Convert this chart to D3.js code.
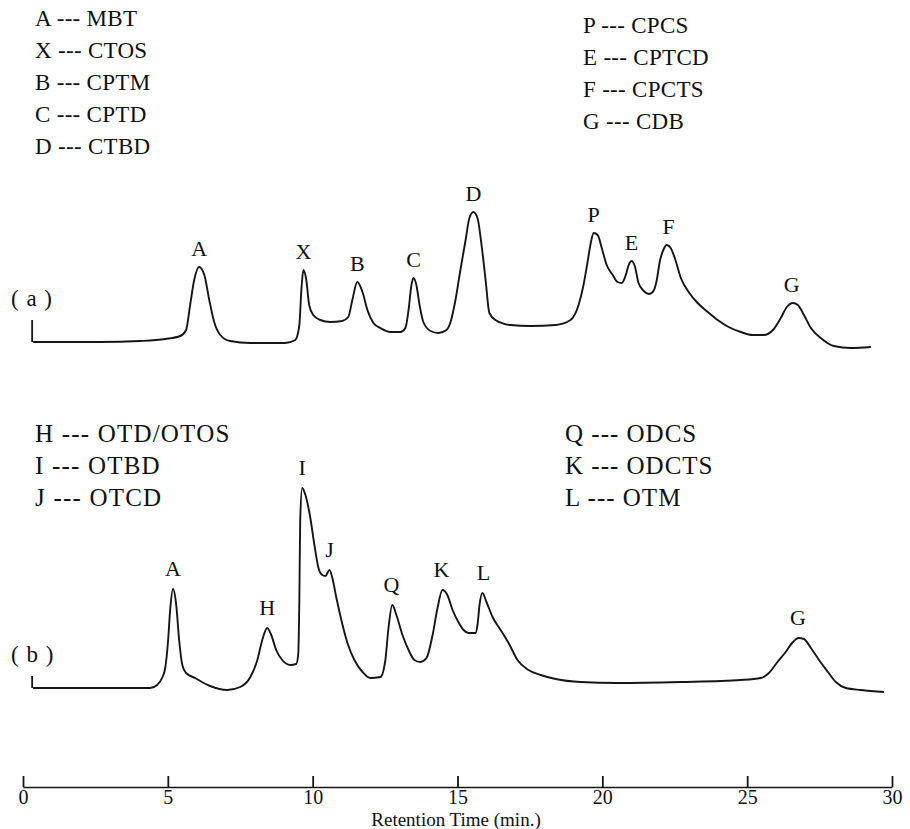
<!DOCTYPE html>
<html><head><meta charset="utf-8">
<script src="https://cdn.jsdelivr.net/npm/d3@7"></script>
<style>
html,body{margin:0;padding:0;background:#fff;}
svg{display:block;}
</style></head><body>
<svg id="chart" width="910" height="829"></svg>
<script>
// ---- trace (a): retention time (min) and detector signal (arb. units)
const timeA = [
 0.35,1.28,2.66,4.04,4.91,5.43,5.63,5.77,5.91,6.08,
 6.26,6.43,6.60,6.81,7.15,7.85,9.05,9.40,9.54,9.61,
 9.68,9.78,9.88,10.02,10.26,10.61,11.02,11.23,11.37,11.54,
 11.72,11.89,12.10,12.34,12.68,13.03,13.20,13.31,13.41,13.48,
 13.58,13.69,13.82,14.07,14.34,14.62,14.76,14.93,15.10,15.28,
 15.41,15.55,15.69,15.83,15.97,16.10,16.31,16.83,17.52,18.39,
 18.90,19.18,19.35,19.49,19.60,19.70,19.84,19.98,20.15,20.36,
 20.53,20.67,20.81,20.91,21.01,21.12,21.25,21.43,21.60,21.74,
 21.88,21.98,22.12,22.22,22.36,22.50,22.71,22.98,23.29,23.64,
 23.98,24.36,24.78,25.19,25.57,25.89,26.16,26.37,26.58,26.75,
 26.96,27.20,27.54,27.99,28.58,29.27];
const signalA = [
 3,3,3,4,6,9,15,40,65,78,
 70,45,23,10,4,2,2,5,20,55,
 75,65,40,30,25,23,24,28,45,63,
 53,35,22,17,13,13,17,35,60,67,
 60,40,23,14,12,15,23,45,75,105,
 127,133,127,100,65,32,25,20,19,20,
 25,40,60,83,102,112,110,97,80,70,
 63,62,70,80,84,79,62,54,51,53,
 65,83,96,100,97,87,67,53,42,33,
 25,18,13,10,10,15,27,38,42,40,
 30,17,7,-1,-3,-2];

// ---- trace (b)
const timeB = [
 0.35,1.97,3.70,4.39,4.63,4.80,4.91,5.01,5.08,5.18,
 5.29,5.39,5.50,5.63,5.94,6.46,7.05,7.50,7.85,8.09,
 8.26,8.43,8.57,8.74,8.95,9.23,9.43,9.50,9.54,9.57,
 9.64,9.75,9.92,10.06,10.20,10.33,10.44,10.58,10.68,10.82,
 10.99,11.20,11.44,11.72,11.99,12.34,12.51,12.61,12.75,12.89,
 13.10,13.31,13.51,13.72,13.93,14.14,14.31,14.48,14.65,14.83,
 15.03,15.21,15.38,15.62,15.69,15.76,15.86,16.00,16.21,16.49,
 16.80,17.07,17.45,17.87,18.39,19.25,20.53,22.71,24.78,25.47,
 25.75,26.02,26.33,26.58,26.78,26.96,27.20,27.48,27.79,28.06,
 28.41,28.93,29.72];
const signalB = [
 7,7,7,7,10,17,27,55,85,106,
 90,55,30,22,17,9,5,8,18,35,
 55,67,60,45,35,30,31,40,95,175,
 207,200,177,150,127,120,119,125,117,97,
 75,52,35,23,17,18,35,65,90,80,
 60,45,35,33,37,60,87,105,100,85,
 73,65,62,62,70,90,102,93,78,65,
 50,35,25,20,16,13,12,13,15,17,
 22,32,43,53,57,56,47,35,23,13,
 7,5,3];

// ---- peak annotations
const peakLabelsA = ["A","X","B","C","D","P","E","F","G"];
const peakTimesA  = [6.08,9.68,11.54,13.48,15.55,19.70,21.01,22.29,26.54];
const peakHeightsA = [78,75,63,67,133,112,84,100,42];
const peakLabelsB = ["A","H","I","J","Q","K","L","G"];
const peakTimesB  = [5.18,8.43,9.64,10.58,12.72,14.45,15.90,26.75];
const peakHeightsB = [106,67,207,125,90,105,102,57];

// ---- legends
const legendA1 = ["A --- MBT","X --- CTOS","B --- CPTM","C --- CPTD","D --- CTBD"];
const legendA2 = ["P --- CPCS","E --- CPTCD","F --- CPCTS","G --- CDB"];
const legendB1 = ["H --- OTD/OTOS","I --- OTBD","J --- OTCD"];
const legendB2 = ["Q --- ODCS","K --- ODCTS","L --- OTM"];
const panelNames = ["( a )","( b )"];
const startMarks = [22, 12];

// ---- axis
const xTicks = [0,5,10,15,20,25,30];
const xTitle = "Retention Time (min.)";

const FONT = "'Liberation Serif','Times New Roman',Times,serif";
const ink = "#161616";

const svg = d3.select("#chart");
const x = d3.scaleLinear().domain([0,30]).range([23,892]);
const yA = d3.scaleLinear().domain([0,150]).range([345,195]);
const yB = d3.scaleLinear().domain([0,220]).range([695,475]);

function txt(sel){ return sel.style("font-family", FONT).attr("fill", "#111"); }

function drawTrace(times, signals, y, labels, lt, lh, mark, panel, panelY, labelGap){
  const data = d3.zip(times, signals);
  const line = d3.line().x(d=>x(d[0])).y(d=>y(d[1])).curve(d3.curveMonotoneX);
  svg.append("path").datum(data).attr("d", line)
    .attr("fill","none").attr("stroke",ink).attr("stroke-width",1.9)
    .attr("stroke-linejoin","round");
  svg.append("line")
    .attr("x1", x(times[0])-1).attr("x2", x(times[0])-1)
    .attr("y1", y(signals[0])).attr("y2", y(signals[0]+mark))
    .attr("stroke",ink).attr("stroke-width",1.8);
  txt(svg.selectAll(null).data(d3.zip(labels, lt, lh)).enter().append("text"))
    .attr("x", d=>x(d[1])).attr("y", d=>y(d[2]) - labelGap)
    .attr("text-anchor","middle").style("font-size","22px").text(d=>d[0]);
  txt(svg.append("text")).attr("x",11).attr("y",panelY)
    .style("font-size","23px").style("letter-spacing","1px").text(panel);
}

drawTrace(timeA, signalA, yA, peakLabelsA, peakTimesA, peakHeightsA, startMarks[0], panelNames[0], 306, 11);
drawTrace(timeB, signalB, yB, peakLabelsB, peakTimesB, peakHeightsB, startMarks[1], panelNames[1], 662, 13);

function legend(items, x0, y0, size, spacing){
  txt(svg.selectAll(null).data(items).enter().append("text"))
    .attr("x", x0).attr("y", (d,i)=> y0 + i*32)
    .style("font-size", size+"px").style("letter-spacing", spacing+"px").text(d=>d);
}
legend(legendA1, 35, 26, 23, 0.3);
legend(legendA2, 583, 33, 23, 0.3);
legend(legendB1, 35, 442, 25, 1.2);
legend(legendB2, 565, 442, 25, 1.0);

// bottom axis
const axisY = 787;
const axis = d3.axisBottom(x).tickValues(xTicks).tickFormat(d3.format("d"))
  .tickSizeInner(-11).tickSizeOuter(0).tickPadding(3);
const gx = svg.append("g").attr("transform",`translate(0,${axisY})`).call(axis);
gx.select(".domain").attr("stroke",ink).attr("stroke-width",1.5);
gx.selectAll(".tick line").attr("stroke",ink).attr("stroke-width",1.8);
txt(gx.selectAll(".tick text")).style("font-size","20px");

txt(svg.append("text")).attr("x", 456).attr("y", 826).attr("text-anchor","middle")
  .style("font-size","19px").text(xTitle);
</script>
</body></html>
